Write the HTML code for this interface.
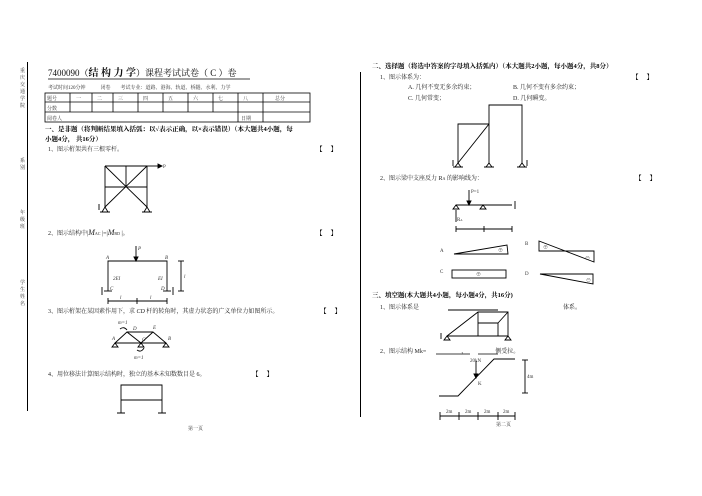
<!DOCTYPE html>
<html><head><meta charset="utf-8"><style>
html,body{margin:0;padding:0;background:#fff;}
svg{display:block;font-family:"Liberation Serif","Noto Serif CJK SC","Noto Sans CJK SC",serif;}
.t{font-size:6px;fill:#222;}
.s{font-size:5px;fill:#333;}
.b{font-size:6.5px;font-weight:bold;fill:#000;}
</style></head><body>
<svg width="702" height="496" viewBox="0 0 702 496" xmlns="http://www.w3.org/2000/svg">
<g stroke="#000" fill="none" stroke-width="1">
<line x1="27.5" y1="62" x2="27.5" y2="411"/>
<line x1="360.5" y1="72" x2="360.5" y2="417"/>
</g>
<g class="s" font-size="5.5">
<text x="20" y="72">重</text><text x="20" y="79">庆</text><text x="20" y="86">交</text><text x="20" y="93">通</text><text x="20" y="100">学</text><text x="20" y="107">院</text>
<text x="20" y="162">系</text><text x="20" y="169">别</text>
<text x="20" y="214">年</text><text x="20" y="221">级</text><text x="20" y="228">班</text>
<text x="20" y="284">学</text><text x="20" y="291">生</text><text x="20" y="298">姓</text><text x="20" y="305">名</text>
</g>
<text x="48" y="76" font-size="9" fill="#111">7400090（<tspan font-weight="bold" font-size="10">结 构 力 学</tspan>）课程考试试卷（ C ）卷</text>
<line x1="48" y1="79" x2="250" y2="79" stroke="#000" stroke-width="0.8"/>
<text x="48" y="89" class="s" font-size="4.5">考试时间120分钟　　　闭卷　　考试专业：道路、港海、轨道、桥隧、水利、力学</text>
<g stroke="#000" stroke-width="0.8" fill="none">
<rect x="45" y="93" width="265" height="29"/>
<line x1="45" y1="102" x2="310" y2="102"/><line x1="45" y1="112" x2="310" y2="112"/>
<line x1="70" y1="93" x2="70" y2="112"/><line x1="92" y1="93" x2="92" y2="112"/><line x1="113" y1="93" x2="113" y2="112"/><line x1="138" y1="93" x2="138" y2="112"/><line x1="163" y1="93" x2="163" y2="112"/><line x1="188" y1="93" x2="188" y2="112"/><line x1="213" y1="93" x2="213" y2="112"/>
<line x1="238" y1="93" x2="238" y2="122"/><line x1="263" y1="93" x2="263" y2="122"/>
</g>
<g class="s" font-size="5.5">
<text x="47" y="100">题号</text><text x="76" y="100">一</text><text x="97" y="100">二</text><text x="118" y="100">三</text><text x="143" y="100">四</text><text x="168" y="100">五</text><text x="193" y="100">六</text><text x="218" y="100">七</text><text x="243" y="100">八</text><text x="275" y="100">总分</text>
<text x="47" y="110">分数</text><text x="47" y="120">阅卷人</text><text x="241" y="120">日期</text>
</g>
<text x="45" y="131" class="b">一、是非题（将判断结果填入括弧：以√表示正确，以×表示错误）（本大题共4小题，每</text>
<text x="45" y="141" class="b">小题4分，  共16分）</text>
<text x="48" y="151" class="t">1、图示桁架共有三根零杆。</text>
<text x="316" y="151" class="b">【　 】</text>
<g stroke="#000" stroke-width="0.9" fill="none">
<line x1="105" y1="166" x2="147" y2="166"/><line x1="105" y1="187" x2="147" y2="187"/>
<line x1="105" y1="166" x2="105" y2="207"/><line x1="147" y1="166" x2="147" y2="207"/><line x1="126" y1="166" x2="126" y2="187"/>
<line x1="105" y1="166" x2="147" y2="207"/><line x1="147" y1="166" x2="105" y2="207"/>
<line x1="147" y1="166" x2="158" y2="166"/><path d="M158 164 L162 166 L158 168Z" fill="#000"/>
<path d="M102 212 L105 207 L108 212Z M100 212 L110 212 M144 212 L147 207 L150 212Z M142 212 L152 212"/>
<line x1="99" y1="204" x2="99" y2="210"/>
</g>
<text x="163" y="168" class="s" font-size="4">P</text>
<text x="48" y="235" class="t">2、图示结构中|<tspan font-style="italic" font-size="8">M</tspan><tspan font-size="4">AC</tspan> |=|<tspan font-style="italic" font-size="8">M</tspan><tspan font-size="4">BD</tspan> |。</text>
<text x="316" y="235" class="b">【　 】</text>
<g stroke="#000" stroke-width="0.9" fill="none">
<path d="M108 291 L108 261 L167 261 L167 291"/>
<line x1="136" y1="246" x2="136" y2="259"/><path d="M134 257 L136 261 L138 257Z" fill="#000"/>
<line x1="104" y1="291" x2="112" y2="291"/><line x1="163" y1="291" x2="171" y2="291"/>
<line x1="102" y1="287" x2="102" y2="295"/><line x1="173" y1="287" x2="173" y2="295"/>
<line x1="108" y1="301" x2="167" y2="301"/><line x1="108" y1="298" x2="108" y2="304"/><line x1="137" y1="298" x2="137" y2="304"/><line x1="167" y1="298" x2="167" y2="304"/>
<line x1="181" y1="261" x2="181" y2="291"/><line x1="178" y1="261" x2="184" y2="261"/><line x1="178" y1="291" x2="184" y2="291"/>
</g>
<g class="s" font-size="4" font-style="italic"><text x="106" y="259">A</text><text x="165" y="259">B</text><text x="138" y="250">P</text><text x="113" y="280">2EI</text><text x="158" y="280">EI</text><text x="110" y="290">C</text><text x="161" y="290">D</text><text x="120" y="299">l</text><text x="150" y="299">l</text><text x="184" y="278">l</text></g>
<text x="48" y="313" class="t">3、图示桁架在某因素作用下，求 <tspan font-style="italic">CD</tspan> 杆的转角时，其虚力状态的广义单位力如图所示。</text>
<text x="320" y="313" class="b">【　 】</text>
<g stroke="#000" stroke-width="0.9" fill="none">
<line x1="115" y1="343" x2="166" y2="343"/><line x1="127" y1="332" x2="153" y2="332"/>
<path d="M115 343 L127 332 L141 343 L153 332 L166 343"/>
<path d="M112 347 L115 343 L118 347Z M138 347 L141 343 L144 347Z M163 347 L166 343 L169 347Z"/>
<path d="M120 329 Q124 326 127 330"/><path d="M137 350 Q141 353 144 348"/>
</g>
<g class="s" font-size="4" font-style="italic"><text x="112" y="340">A</text><text x="133" y="330">D</text><text x="153" y="329">E</text><text x="142" y="341">C</text><text x="168" y="340">B</text><text x="118" y="324">m=1</text><text x="134" y="359">m=1</text></g>
<text x="48" y="376" class="t">4、用位移法计算图示结构时，独立的基本未知数数目是 6。</text>
<text x="252" y="376" class="b">【　 】</text>
<g stroke="#000" stroke-width="0.9" fill="none">
<path d="M121 413 L121 385 L162 385 L162 413 M121 400 L162 400 M117 413 L125 413 M158 413 L166 413"/>
</g>
<text x="188" y="430" class="s" font-size="5">第一页</text>

<text x="372" y="68" class="b">二、选择题（将选中答案的字母填入括弧内）（本大题共2小题，每小题4分，共8分）</text>
<text x="380" y="79" class="t">1、图示体系为：</text>
<text x="632" y="79" class="b">【　 】</text>
<text x="408" y="89" class="t">A. 几何不变无多余约束；</text><text x="513" y="89" class="t">B. 几何不变有多余约束；</text>
<text x="408" y="100" class="t">C. 几何常变；</text><text x="513" y="100" class="t">D. 几何瞬变。</text>
<g stroke="#000" stroke-width="0.9" fill="none">
<path d="M458 163 L458 124 L489 124 M458 163 L489 124 M489 163 L489 105 L522 105 L522 163"/>
<path d="M455 167 L458 163 L461 167Z M486 167 L489 163 L492 167Z M519 167 L522 163 L525 167Z M453 167 L463 167 M484 167 L494 167 M517 167 L527 167"/>
<line x1="453" y1="160" x2="453" y2="166"/><line x1="527" y1="160" x2="527" y2="166"/>
</g>
<text x="380" y="180" class="t">2、图示梁中支座反力 R<tspan font-size="4">A</tspan> 的影响线为：</text>
<text x="635" y="180" class="b">【　 】</text>
<g stroke="#000" stroke-width="0.9" fill="none">
<line x1="456" y1="205" x2="512" y2="205"/><line x1="515" y1="201" x2="515" y2="209"/>
<line x1="469" y1="190" x2="469" y2="203"/><path d="M467 201 L469 205 L471 201Z" fill="#000"/>
<path d="M453 209 L456 205 L459 209Z M480 209 L483 205 L486 209Z"/>
<line x1="456" y1="210" x2="456" y2="222"/>
<line x1="456" y1="229" x2="512" y2="229"/><line x1="456" y1="226" x2="456" y2="232"/><line x1="484" y1="226" x2="484" y2="232"/><line x1="512" y1="226" x2="512" y2="232"/>
<path d="M454 254 L508 254 L507 245 Z"/>
<path d="M539 241 L539 251 L594 251 L594 262 Z"/>
<rect x="452" y="270" width="54" height="8"/>
<path d="M540 274 L593 274 L593 284 Z"/>
</g>
<g class="s" font-size="4"><text x="471" y="193">P=1</text><text x="457" y="221">R<tspan font-size="3">A</tspan></text><text x="440" y="252">A</text><text x="525" y="245">B</text><text x="440" y="273">C</text><text x="525" y="275">D</text><text x="498" y="252">⊕</text><text x="543" y="249">⊕</text><text x="585" y="260">⊖</text><text x="476" y="276">⊕</text><text x="586" y="282">⊖</text></g>
<text x="372" y="297" class="b">三、填空题(本大题共4小题，每小题4分，共16分)</text>
<text x="380" y="309" class="t">1、图示体系是</text><text x="563" y="309" class="t">体系。</text>
<g stroke="#000" stroke-width="0.9" fill="none">
<line x1="448" y1="310" x2="498" y2="310"/>
<path d="M447 336 L478 312 L508 312 L508 336 L447 336 M478 312 L478 336 M478 323 L498 323 L498 336 M498 323 L508 312"/>
<path d="M444 340 L447 336 L450 340Z M505 340 L508 336 L511 340Z"/>
<line x1="441" y1="333" x2="441" y2="339"/>
</g>
<text x="380" y="353" class="t">2、图示结构 Mk=<tspan dx="35">，</tspan><tspan dx="28">侧受拉。</tspan></text>
<line x1="436" y1="354" x2="470" y2="354" stroke="#000" stroke-width="0.7"/><line x1="478" y1="354" x2="498" y2="354" stroke="#000" stroke-width="0.7"/>
<g stroke="#000" stroke-width="0.9" fill="none">
<path d="M439 396 L458 396 L494 359 L515 359"/>
<line x1="476" y1="361" x2="476" y2="376"/><path d="M474 374 L476 378 L478 374Z" fill="#000"/>
<line x1="525" y1="360" x2="525" y2="393"/><line x1="522" y1="360" x2="528" y2="360"/><line x1="522" y1="393" x2="528" y2="393"/>
<line x1="440" y1="416" x2="515" y2="416"/><line x1="440" y1="412" x2="440" y2="420"/><line x1="459" y1="412" x2="459" y2="420"/><line x1="478" y1="412" x2="478" y2="420"/><line x1="498" y1="412" x2="498" y2="420"/><line x1="515" y1="412" x2="515" y2="420"/>
</g>
<g class="s" font-size="3.5"><text x="470" y="362">20kN</text><text x="478" y="385">K</text><text x="527" y="378">4m</text><text x="446" y="413">2m</text><text x="465" y="413">2m</text><text x="484" y="413">2m</text><text x="503" y="413">2m</text></g>
<text x="496" y="426" class="s" font-size="5">第二页</text>
</svg>
</body></html>
